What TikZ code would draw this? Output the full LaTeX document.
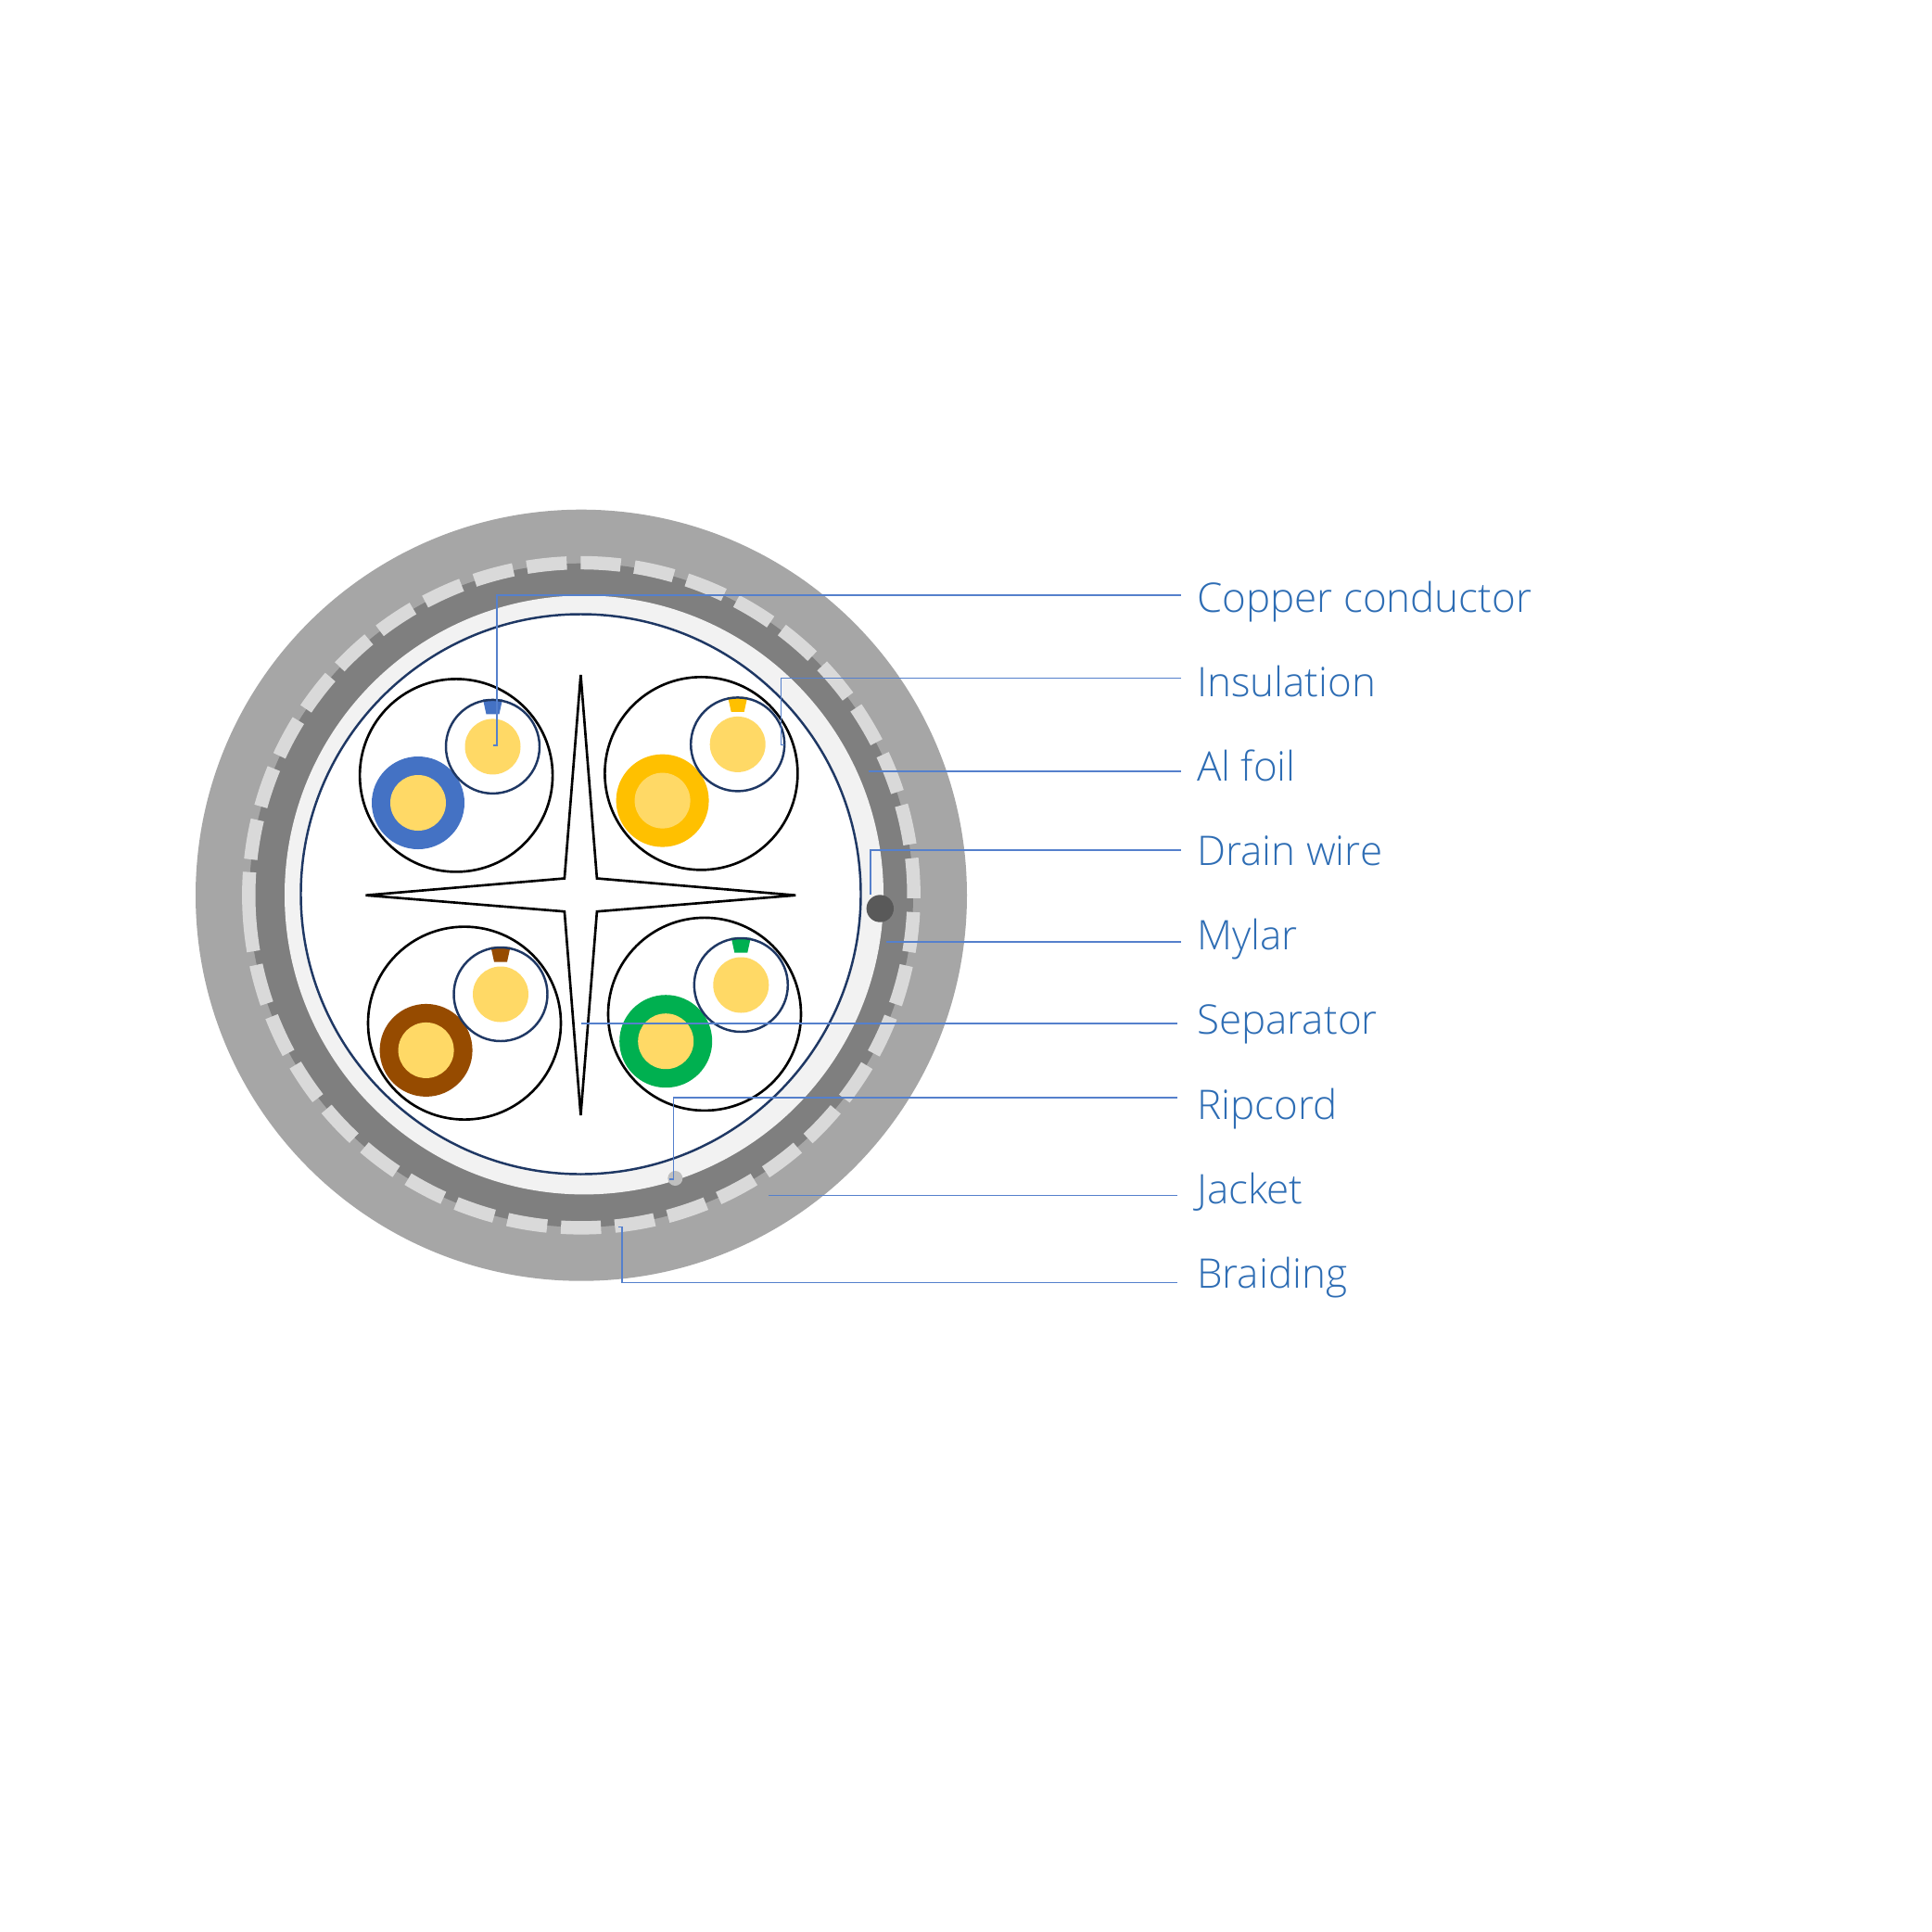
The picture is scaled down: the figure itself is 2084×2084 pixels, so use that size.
\documentclass[tikz,border=0pt]{standalone}
\usepackage{fontspec}
\setmainfont{Open Sans Light}
\definecolor{jacketc}{HTML}{A6A6A6}
\definecolor{darkc}{HTML}{7F7F7F}
\definecolor{dashc}{HTML}{D9D9D9}
\definecolor{foilc}{HTML}{F2F2F2}
\definecolor{navyc}{HTML}{1F3864}
\definecolor{corec}{HTML}{FFD966}
\definecolor{leadc}{HTML}{5580CC}
\definecolor{labc}{HTML}{2E6DB4}
\definecolor{blueins}{HTML}{4472C4}
\definecolor{yellowins}{HTML}{FFC000}
\definecolor{brownins}{HTML}{964B00}
\definecolor{greenins}{HTML}{00B050}
\tikzset{
  braid/.style={draw=dashc,line width=4.1pt},
  pairline/.style={draw=black,line width=0.75pt},
  navyline/.style={draw=navyc,line width=0.7pt},
  leader/.style={draw=leadc,line width=0.45pt},
  lab/.style={anchor=base west,inner sep=0pt,text=labc,font=\fontsize{12.5pt}{15pt}\selectfont},
}
% #1 pair centre  #2 inner centre  #3 ring centre  #4 colour
\newcommand{\cablepair}[4]{%
  \draw[pairline] (#1) circle[radius=104];
  \fill[#4] (#3) circle[radius=50];
  \fill[corec] (#3) circle[radius=30];
  \fill[#4] ([shift={(-10.5,-51)}]#2) -- ([shift={(10.5,-51)}]#2) -- ([shift={(7,-35)}]#2) -- ([shift={(-7,-35)}]#2) -- cycle;
  \draw[navyline] (#2) circle[radius=50.5];
  \fill[corec] (#2) circle[radius=30];
}
\begin{document}
\begin{tikzpicture}[x=0.01cm,y=-0.01cm]
\useasboundingbox[fill=white] (0,0) rectangle (2084,2084);
\coordinate (ctr) at (627,965.7);
\fill[jacketc] (ctr) circle[radius=416];
\fill[darkc] (ctr) circle[radius=358];
% braiding
\foreach \k in {0,...,36}{
  \pgfmathsetmacro{\st}{-173.8+9.3*\k}
  \pgfmathsetmacro{\en}{\st+6.9}
  \draw[braid] ([shift={(\st:358.7)}]ctr) arc[start angle=\st,end angle=\en,radius=358.7];
}
\draw[braid] ([shift={(-189.7:358.7)}]ctr) arc[start angle=-189.7,end angle=-176,radius=358.7];
% mylar + al foil
\fill[foilc] (630,965.4) circle[radius=323];
\fill[white] (626.5,964.5) circle[radius=302];
\draw[navyline] (626.5,964.5) circle[radius=302];
% pairs
\coordinate (pa1) at (492.1,836.4); \coordinate (pa2) at (531.5,805.4); \coordinate (pa3) at (451,866);
\coordinate (pb1) at (756.4,834.3); \coordinate (pb2) at (795.7,802.9); \coordinate (pb3) at (714.6,863.6);
\coordinate (pc1) at (501,1103.6); \coordinate (pc2) at (540,1072.5); \coordinate (pc3) at (459.6,1132.9);
\coordinate (pd1) at (760,1093.9); \coordinate (pd2) at (799.3,1062.5); \coordinate (pd3) at (718.2,1123.2);
\cablepair{pa1}{pa2}{pa3}{blueins}
\cablepair{pb1}{pb2}{pb3}{yellowins}
\cablepair{pc1}{pc2}{pc3}{brownins}
\cablepair{pd1}{pd2}{pd3}{greenins}
% separator
\draw[pairline,fill=white] (626.4,727.9) -- (643.9,947.5) -- (858.2,965.7) -- (643.9,983.2) -- (626.4,1202.9) -- (608.9,983.2) -- (394.6,965.7) -- (608.9,947.5) -- cycle;
% drain wire, ripcord
\fill[black!65] (949.3,980) circle[radius=14.7];
\fill[black!25] (728.3,1271) circle[radius=8];
% labels
\node[lab] (lcopper) at (1290.5,660) {Copper conductor};
\node[lab] (linsul) at (1290.5,751) {Insulation};
\node[lab] (lfoil) at (1290.5,842) {Al foil};
\node[lab] (ldrain) at (1290.5,933) {Drain wire};
\node[lab] (lmylar) at (1290.5,1024.5) {Mylar};
\node[lab] (lsep) at (1290.5,1115.5) {Separator};
\node[lab] (lrip) at (1290.5,1207) {Ripcord};
\node[lab] (ljack) at (1290.5,1298) {Jacket};
\node[lab] (lbraid) at (1290.5,1389) {Braiding};
% leader ends
\coordinate (ecopper) at (1274,642);
\coordinate (einsul) at (1274,731.6);
\coordinate (efoil) at (1274,831.7);
\coordinate (edrain) at (1274,916.7);
\coordinate (emylar) at (1274,1016);
\coordinate (esep) at (1270,1104);
\coordinate (erip) at (1270,1184);
\coordinate (ejack) at (1270,1289.3);
\coordinate (ebraid) at (1270,1383.3);
\coordinate (scopper) at (532,804);
\coordinate (sinsul) at (846,803.6);
\coordinate (sfoil) at (937,831.7);
\coordinate (sdrain) at (939,965);
\coordinate (smylar) at (956,1016);
\coordinate (ssep) at (627,1104);
\coordinate (srip) at (721.7,1271.7);
\coordinate (sjack) at (829,1289.3);
\coordinate (sbraid) at (667.3,1323.3);
\draw[leader] (scopper) -- (536,804) |- (ecopper);
\draw[leader] (sinsul) -- (842.5,803.6) |- (einsul);
\draw[leader] (sfoil) -- (efoil);
\draw[leader] (sdrain) |- (edrain);
\draw[leader] (smylar) -- (emylar);
\draw[leader] (ssep) -- (esep);
\draw[leader] (srip) -- (726.7,1271.7) |- (erip);
\draw[leader] (sjack) -- (ejack);
\draw[leader] (sbraid) -- (671,1323.3) |- (ebraid);
\end{tikzpicture}
\end{document}
